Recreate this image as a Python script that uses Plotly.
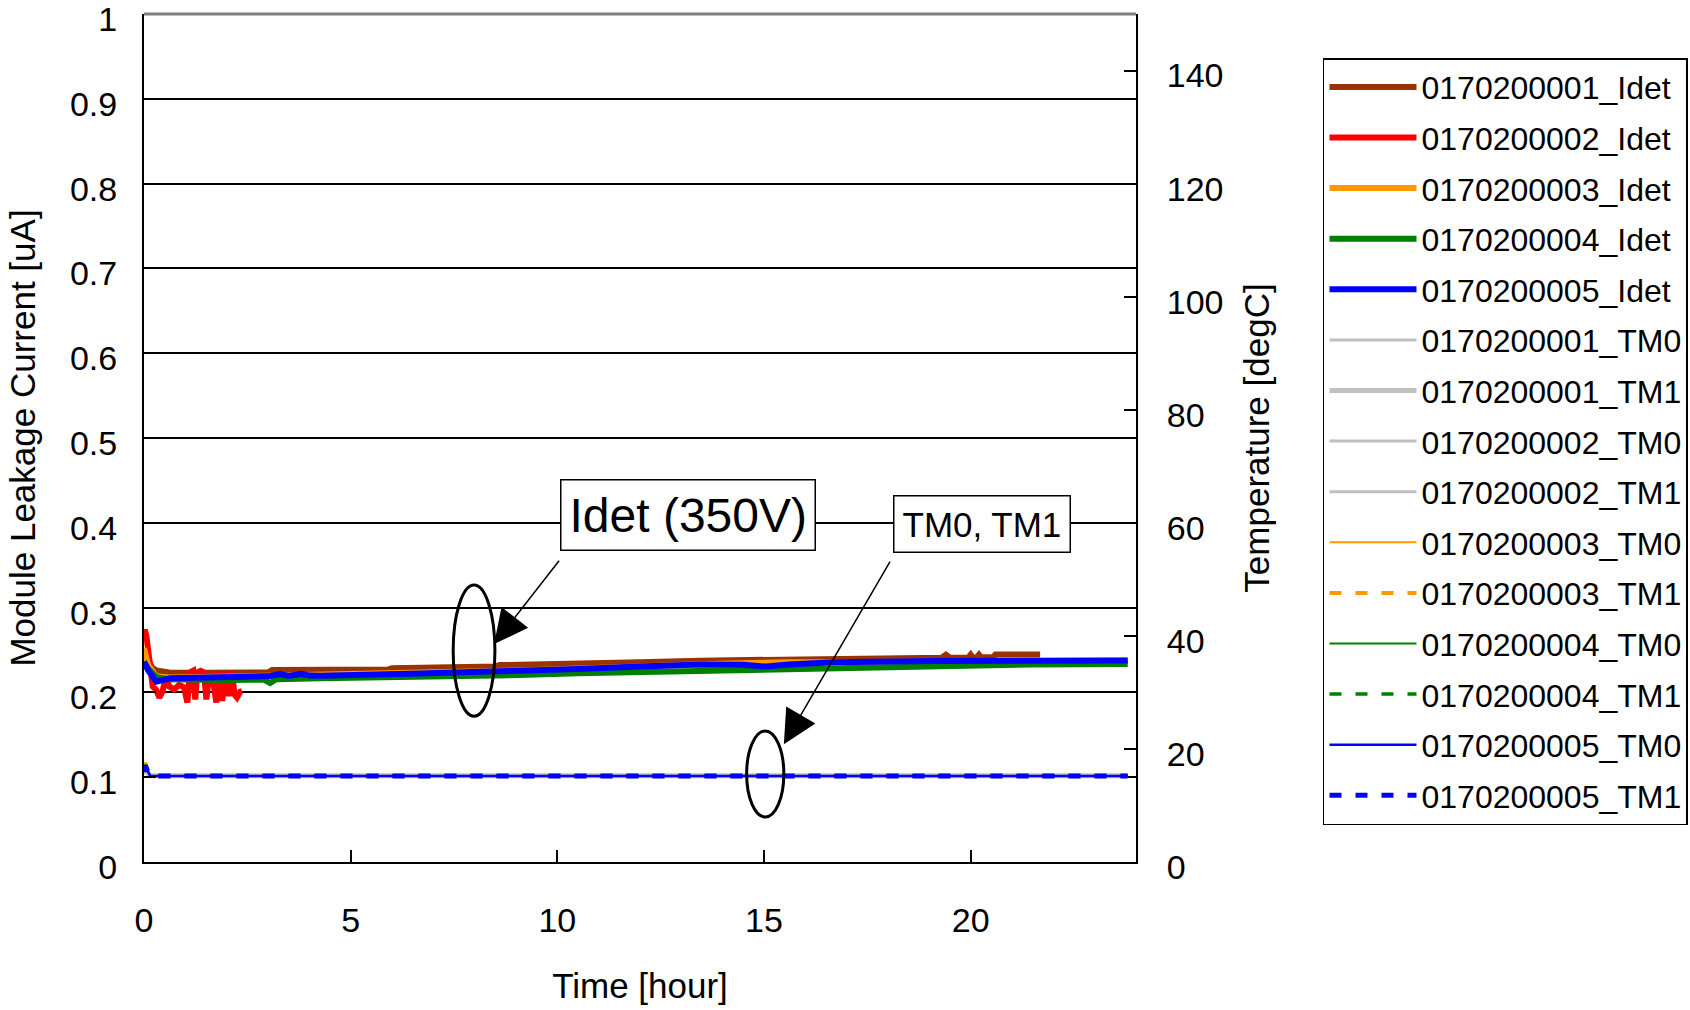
import plotly.graph_objects as go

# ---------------- data ----------------
# Module leakage current (Idet) [uA] vs time [hour]
t_idet1 = [0, 0.1, 0.2, 0.3, 0.6, 1.5, 2.5, 3.0, 3.1, 4.3, 5.9, 6.0, 7.9, 8.5, 8.6, 9.1, 10, 11, 12,
           13.45, 14.6, 15.5, 16.3, 17.4, 18.5, 19.3, 19.4, 19.5, 19.95, 20.0, 20.05, 20.15, 20.2,
           20.25, 20.55, 20.6, 21.0, 21.3, 21.68]
idet1 = [0.248, 0.238, 0.229, 0.226, 0.2235, 0.2232, 0.2232, 0.2235, 0.2265, 0.2262, 0.227, 0.2285,
         0.2298, 0.2305, 0.2322, 0.2325, 0.2335, 0.2345, 0.2355, 0.2374, 0.238, 0.2385, 0.2395,
         0.240, 0.2405, 0.241, 0.2445, 0.241, 0.2413, 0.2445, 0.2413, 0.2415, 0.2445, 0.2415,
         0.2418, 0.2448, 0.2448, 0.2455, 0.2448]

t_idet2 = [0, 0.02, 0.06, 0.12, 0.17, 0.21, 0.29, 0.37, 0.45, 0.53, 0.61, 0.73, 0.85, 0.97, 1.05,
           1.11, 1.19, 1.24, 1.29, 1.37, 1.45, 1.51, 1.57, 1.65, 1.75, 1.81, 1.89, 1.97, 2.05,
           2.13, 2.19, 2.25, 2.33, 2.37]
idet2 = [0.270, 0.274, 0.266, 0.247, 0.227, 0.207, 0.2035, 0.194, 0.2015, 0.219, 0.207, 0.2035,
         0.209, 0.206, 0.188, 0.2235, 0.2255, 0.1917, 0.2235, 0.2255, 0.2235, 0.1917, 0.219,
         0.2205, 0.188, 0.2235, 0.190, 0.2235, 0.1956, 0.2255, 0.1976, 0.194, 0.201, 0.2015]

t_idet3 = [0, 0.1, 0.3, 0.6, 1.84, 3.05, 4.26, 5.47, 6.68, 7.89, 9.1, 10.5, 12, 13.45, 14.6, 15.05,
           15.5, 16.7, 19.1, 21.5, 23.8]
idet3 = [0.252, 0.232, 0.219, 0.2175, 0.2185, 0.2195, 0.2205, 0.221, 0.2225, 0.2245, 0.2258, 0.2275,
         0.2305, 0.2332, 0.235, 0.2355, 0.2355, 0.2357, 0.2368, 0.2376, 0.2376]

t_idet4 = [0, 0.1, 0.3, 0.6, 1.84, 2.9, 3.05, 3.2, 4.26, 6.68, 7.89, 9.1, 10.5, 12, 13.45, 15, 16.7,
           19, 21.5, 23.8]
idet4 = [0.236, 0.228, 0.218, 0.2155, 0.2146, 0.215, 0.211, 0.2155, 0.2166, 0.218, 0.219, 0.2205,
         0.2225, 0.224, 0.2256, 0.2275, 0.2298, 0.2315, 0.233, 0.2335]

t_idet5 = [0, 0.1, 0.3, 0.45, 0.63, 1.84, 3.05, 3.3, 3.5, 3.8, 4.0, 4.26, 5.47, 6.68, 7.89, 9.1,
           10.5, 12, 13.45, 14.5, 15.05, 15.6, 16.7, 19.1, 21.5, 23.8]
idet5 = [0.236, 0.226, 0.2126, 0.214, 0.2166, 0.2178, 0.2193, 0.2215, 0.2195, 0.222, 0.2198, 0.2197,
         0.2203, 0.2222, 0.2241, 0.2253, 0.2275, 0.2305, 0.233, 0.2325, 0.2305, 0.233, 0.2357,
         0.237, 0.2377, 0.2377]

# Module temperatures TM0 / TM1 [degC] vs time [hour]
t_tm = [0, 0.03, 0.15, 0.5, 6, 12, 18, 23.8]
tm_01_0 = [15.7, 16.1, 15.25, 15.25, 15.25, 15.25, 15.25, 15.25]
tm_01_1 = [15.7, 16.2, 15.25, 15.25, 15.25, 15.25, 15.25, 15.25]
tm_02_0 = [15.6, 16.0, 15.2, 15.2, 15.2, 15.2, 15.2, 15.2]
tm_02_1 = [15.6, 16.0, 15.2, 15.2, 15.2, 15.2, 15.2, 15.2]
tm_03_0 = [16.4, 17.6, 15.25, 15.2, 15.2, 15.2, 15.2, 15.2]
tm_03_1 = [16.5, 17.5, 15.25, 15.2, 15.2, 15.2, 15.2, 15.2]
tm_04_0 = [16.2, 17.2, 15.2, 15.2, 15.2, 15.2, 15.2, 15.2]
tm_04_1 = [16.2, 17.2, 15.2, 15.2, 15.2, 15.2, 15.2, 15.2]
tm_05_0 = [15.9, 17.0, 15.2, 15.2, 15.2, 15.2, 15.2, 15.2]
tm_05_1 = [15.9, 17.0, 15.2, 15.2, 15.2, 15.2, 15.2, 15.2]

x_ticks = [0, 5, 10, 15, 20]
y_ticks = [0, 0.1, 0.2, 0.3, 0.4, 0.5, 0.6, 0.7, 0.8, 0.9, 1]
y2_ticks = [0, 20, 40, 60, 80, 100, 120, 140]

# ---------------- styling ----------------
FONT = "Liberation Sans, Arial, sans-serif"
BROWN, RED, ORANGE, GREEN, BLUE, GRAY = "#993300", "#FF0000", "#FF9900", "#008000", "#0000FF", "#C0C0C0"
DASH = "12px,14px"

fig = go.Figure()

idet_series = [
    ("0170200001_Idet", t_idet1, idet1, BROWN),
    ("0170200002_Idet", t_idet2, idet2, RED),
    ("0170200003_Idet", t_idet3, idet3, ORANGE),
    ("0170200004_Idet", t_idet4, idet4, GREEN),
    ("0170200005_Idet", t_idet5, idet5, BLUE),
]
for name, t, v, c in idet_series:
    fig.add_trace(go.Scatter(x=t, y=v, name=name, mode="lines", legendgroup=name,
                             line=dict(color=c, width=6), yaxis="y"))

tm_series = [
    ("0170200001_TM0", tm_01_0, GRAY, 3, "solid"),
    ("0170200001_TM1", tm_01_1, GRAY, 5, "solid"),
    ("0170200002_TM0", tm_02_0, GRAY, 3, "solid"),
    ("0170200002_TM1", tm_02_1, GRAY, 3, "solid"),
    ("0170200003_TM0", tm_03_0, ORANGE, 2, "solid"),
    ("0170200003_TM1", tm_03_1, ORANGE, 4, DASH),
    ("0170200004_TM0", tm_04_0, GREEN, 2, "solid"),
    ("0170200004_TM1", tm_04_1, GREEN, 3.5, DASH),
    ("0170200005_TM0", tm_05_0, BLUE, 2.5, "solid"),
    ("0170200005_TM1", tm_05_1, BLUE, 5, DASH),
]
for name, v, c, w, d in tm_series:
    fig.add_trace(go.Scatter(x=t_tm, y=v, name=name, mode="lines", legendgroup=name,
                             line=dict(color=c, width=w, dash=d), yaxis="y2"))

axis_common = dict(showline=True, linecolor="black", linewidth=2, ticks="inside", ticklen=12,
                   tickwidth=1.5, tickcolor="black", zeroline=False, automargin=False,
                   ticklabeloverflow="allow",
                   tickfont=dict(family=FONT, size=34, color="black"))

fig.update_layout(
    template="none",
    width=1690, height=1010,
    margin=dict(l=144, r=554, t=14, b=148, pad=0, autoexpand=False),
    paper_bgcolor="white", plot_bgcolor="white",
    font=dict(family=FONT, color="black"),
    xaxis=dict(range=[0, 24], tickvals=x_ticks, showgrid=False, ticklabelstandoff=27,
               title=dict(text="Time [hour]", font=dict(family=FONT, size=35), standoff=36),
               **axis_common),
    yaxis=dict(range=[0, 1], tickvals=y_ticks, showgrid=True, gridcolor="black", gridwidth=1.5,
               ticklabelstandoff=18, ticklabelshift=5,
               title=dict(text="Module Leakage Current [uA]", font=dict(family=FONT, size=35), standoff=24),
               **axis_common),
    yaxis2=dict(range=[0, 150], tickvals=y2_ticks, overlaying="y", side="right", showgrid=False,
                ticklabelstandoff=22, ticklabelshift=5,
                title=dict(text="Temperature [degC]", font=dict(family=FONT, size=35), standoff=22),
                **axis_common),
    legend=dict(x=1.1885, y=0.948, xanchor="left", yanchor="top", bgcolor="white",
                bordercolor="black", borderwidth=1.5, font=dict(family=FONT, size=32, color="black"),
                itemwidth=87, tracegroupgap=6, traceorder="grouped"),
    showlegend=True,
)

# gray top border of plot area
fig.add_shape(type="line", xref="paper", yref="paper", x0=0, x1=1, y0=1, y1=1,
              line=dict(color="#808080", width=3))

# ellipses marking the curves
fig.add_shape(type="circle", xref="x", yref="y", x0=7.48, x1=8.49, y0=0.172, y1=0.3266,
              line=dict(color="black", width=3))
fig.add_shape(type="circle", xref="x", yref="y", x0=14.58, x1=15.48, y0=0.053, y1=0.1545,
              line=dict(color="black", width=3))

# text boxes
fig.add_annotation(x=13.16, y=0.409, xref="x", yref="y", text="Idet (350V)", showarrow=False,
                   font=dict(family=FONT, size=48, color="black"), bgcolor="white",
                   bordercolor="black", borderwidth=1.5, borderpad=8)
fig.add_annotation(x=20.28, y=0.399, xref="x", yref="y", text="TM0, TM1", showarrow=False,
                   font=dict(family=FONT, size=35, color="black"), bgcolor="white",
                   bordercolor="black", borderwidth=1.5, borderpad=8)

# arrows
fig.add_annotation(x=8.47, y=0.257, xref="x", yref="y", ax=10.07, ay=0.357, axref="x", ayref="y",
                   text="", showarrow=True, arrowhead=2, arrowsize=4.5, arrowwidth=1.5,
                   arrowcolor="black", standoff=0)
fig.add_annotation(x=15.48, y=0.139, xref="x", yref="y", ax=18.07, ay=0.356, axref="x", ayref="y",
                   text="", showarrow=True, arrowhead=2, arrowsize=4.5, arrowwidth=1.5,
                   arrowcolor="black", standoff=0)

fig.write_html("out.html", config={"displayModeBar": False},
               post_script="document.body.style.margin='0px';")
